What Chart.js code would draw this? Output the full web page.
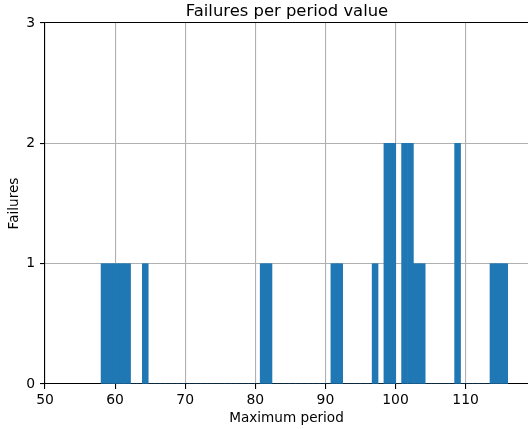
<!DOCTYPE html>
<html>
<head>
<meta charset="utf-8">
<script src="https://cdn.jsdelivr.net/npm/chart.js@4/dist/chart.umd.min.js"></script>
<style>
  html, body { margin: 0; padding: 0; background: #fff; }
  canvas { display: block; }
</style>
</head>
<body>
<canvas id="failChart" width="528" height="429"></canvas>
<script>
// DATA - maximum period of every failure
const failurePeriods = [58, 59, 60, 61, 62, 64, 81, 82, 91, 92, 97,
    99, 99, 100, 100, 101, 101, 102, 102, 103, 104, 109, 109, 114, 115, 116];
const binCount = 69;
const xTicks = [50, 60, 70, 80, 90, 100, 110];
const yTicks = [0, 1, 2, 3];
const chartTitle = 'Failures per period value';

const BAR_COLOR = '#1f77b4';
const GRID_COLOR = '#b0b0b0';
const FONT = 'DejaVu Sans';

// histogram like matplotlib's plt.hist(periods, bins=69)
function buildHistogram(values, bins) {
    const lo = Math.min(...values);
    const hi = Math.max(...values);
    const w = (hi - lo) / bins;
    const counts = new Array(bins).fill(0);
    values.forEach(v => {
        let i = Math.floor((v - lo) / w);
        if (i >= bins) i = bins - 1;
        counts[i]++;
    });
    return counts.map((c, i) => ({ x: lo + (i + 0.5) * w, y: c }));
}

const histData = buildHistogram(failurePeriods, binCount);

// title centred over the plot area, like matplotlib does
const axesTitle = {
    id: 'axesTitle',
    afterDraw(chart) {
        const { ctx, chartArea } = chart;
        ctx.save();
        ctx.font = `16.4px "${FONT}"`;
        ctx.fillStyle = '#000';
        ctx.textAlign = 'center';
        ctx.textBaseline = 'alphabetic';
        ctx.fillText(chartTitle, (chartArea.left + 529) / 2, 15.5);
        ctx.restore();
    }
};

new Chart(document.getElementById('failChart'), {
    type: 'bar',
    data: {
        datasets: [{
            data: histData,
            backgroundColor: BAR_COLOR,
            borderWidth: 0,
            barPercentage: 1,
            categoryPercentage: 1
        }]
    },
    options: {
        responsive: false,
        animation: false,
        layout: { padding: { top: 23, left: 0, right: 0, bottom: 0 } },
        plugins: {
            legend: { display: false },
            tooltip: { enabled: false },
            title: { display: false }
        },
        scales: {
            x: {
                type: 'linear',
                min: 50,
                max: 118.9,
                offset: false,
                z: 1,
                afterFit: s => { s.height = 45; },
                afterBuildTicks: s => { s.ticks = xTicks.map(v => ({ value: v })); },
                grid: { offset: false, color: GRID_COLOR, lineWidth: 1.1, tickLength: 5, tickColor: '#000' },
                border: { color: '#000', width: 1.1 },
                ticks: {
                    color: '#000',
                    font: { family: FONT, size: 13.9 },
                    padding: 3,
                    maxRotation: 0,
                    autoSkip: false,
                    includeBounds: false
                },
                title: {
                    display: true,
                    text: 'Maximum period',
                    color: '#000',
                    font: { family: FONT, size: 13.6 },
                    padding: { top: 0, bottom: 2 }
                }
            },
            y: {
                min: 0,
                max: 3,
                z: 1,
                afterFit: s => { s.width = 45; },
                afterBuildTicks: s => { s.ticks = yTicks.map(v => ({ value: v })); },
                grid: {
                    color: ctx => (ctx.tick && ctx.tick.value === 3) ? '#000' : GRID_COLOR,
                    lineWidth: 1.1,
                    tickLength: 5,
                    tickColor: '#000'
                },
                border: { color: '#000', width: 1.1 },
                ticks: {
                    color: '#000',
                    font: { family: FONT, size: 13.9 },
                    padding: 5
                },
                title: {
                    display: true,
                    text: 'Failures',
                    color: '#000',
                    font: { family: FONT, size: 13.6 },
                    padding: { top: 6, bottom: 0 }
                }
            }
        }
    },
    plugins: [axesTitle]
});
</script>
</body>
</html>
